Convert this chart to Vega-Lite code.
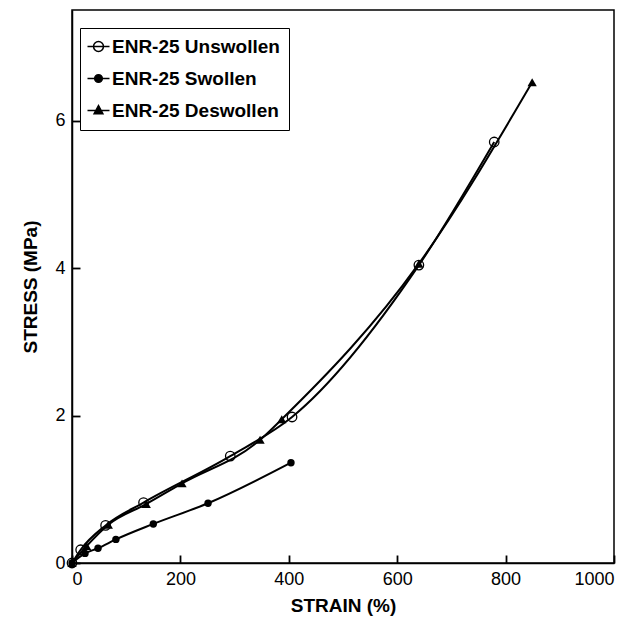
{
  "$schema": "https://vega.github.io/schema/vega-lite/v6.json",
  "width": 542,
  "height": 553,
  "autosize": {"type": "none"},
  "padding": {"left": 72, "top": 10, "right": 24, "bottom": 56},
  "background": "white",
  "config": {
    "font": "Liberation Sans",
    "view": {"stroke": "black", "strokeWidth": 1.5, "fill": null},
    "axis": {
      "grid": false,
      "ticks": true,
      "zindex": 1,
      "domainColor": "black",
      "domainWidth": 1.5,
      "tickColor": "black",
      "tickOpacity": 1,
      "tickWidth": 1.8,
      "tickSize": -8,
      "labelPadding": 15,
      "labelColor": "black",
      "labelFontSize": 18,
      "labelFont": "Liberation Sans",
      "titleColor": "black",
      "titleFontSize": 19,
      "titleFontWeight": "bold",
      "titleFont": "Liberation Sans"
    },
    "legend": {
      "labelFont": "Liberation Sans",
      "labelFontSize": 19,
      "labelFontWeight": "bold",
      "labelColor": "black",
      "labelLimit": 400
    }
  },
  "data": {
    "values": [
      {"series": "ENR-25 Unswollen", "strain": 0, "stress": 0},
      {"series": "ENR-25 Unswollen", "strain": 16, "stress": 0.18},
      {"series": "ENR-25 Unswollen", "strain": 62, "stress": 0.51},
      {"series": "ENR-25 Unswollen", "strain": 132, "stress": 0.82},
      {"series": "ENR-25 Unswollen", "strain": 292, "stress": 1.45},
      {"series": "ENR-25 Unswollen", "strain": 406, "stress": 1.98},
      {"series": "ENR-25 Unswollen", "strain": 640, "stress": 4.04},
      {"series": "ENR-25 Unswollen", "strain": 779, "stress": 5.71},
      {"series": "ENR-25 Swollen", "strain": 0, "stress": 0},
      {"series": "ENR-25 Swollen", "strain": 24, "stress": 0.13},
      {"series": "ENR-25 Swollen", "strain": 48, "stress": 0.2},
      {"series": "ENR-25 Swollen", "strain": 81, "stress": 0.32},
      {"series": "ENR-25 Swollen", "strain": 150, "stress": 0.53},
      {"series": "ENR-25 Swollen", "strain": 251, "stress": 0.81},
      {"series": "ENR-25 Swollen", "strain": 404, "stress": 1.36},
      {"series": "ENR-25 Deswollen", "strain": 0, "stress": 0},
      {"series": "ENR-25 Deswollen", "strain": 27, "stress": 0.23},
      {"series": "ENR-25 Deswollen", "strain": 67, "stress": 0.52},
      {"series": "ENR-25 Deswollen", "strain": 137, "stress": 0.8},
      {"series": "ENR-25 Deswollen", "strain": 203, "stress": 1.08},
      {"series": "ENR-25 Deswollen", "strain": 347, "stress": 1.67},
      {"series": "ENR-25 Deswollen", "strain": 387, "stress": 1.95},
      {"series": "ENR-25 Deswollen", "strain": 640, "stress": 4.06},
      {"series": "ENR-25 Deswollen", "strain": 849, "stress": 6.52}
    ]
  },
  "encoding": {
    "x": {
      "field": "strain", "type": "quantitative",
      "scale": {"domain": [0, 1000], "nice": false},
      "axis": {
        "values": [0, 200, 400, 600, 800, 1000], "format": "d", "title": "STRAIN (%)", "titlePadding": 8
      }
    },
    "y": {
      "field": "stress", "type": "quantitative",
      "scale": {"domain": [0, 7.5], "nice": false},
      "axis": {
        "values": [0, 2, 4, 6], "title": "STRESS (MPa)", "titlePadding": 14
      }
    }
  },
  "layer": [
    {
      "mark": {"type": "line", "interpolate": "monotone", "color": "black", "strokeWidth": 2},
      "encoding": {"detail": {"field": "series"}}
    },
    {
      "transform": [{"filter": "datum.series === 'ENR-25 Unswollen'"}],
      "mark": {"type": "point", "shape": "circle", "filled": false, "stroke": "black", "strokeWidth": 1.3, "size": 90, "opacity": 1}
    },
    {
      "transform": [{"filter": "datum.series === 'ENR-25 Swollen'"}],
      "mark": {"type": "point", "shape": "circle", "filled": true, "fill": "black", "size": 55, "opacity": 1}
    },
    {
      "transform": [{"filter": "datum.series === 'ENR-25 Deswollen'"}],
      "mark": {"type": "point", "shape": "triangle-up", "filled": true, "fill": "black", "size": 85, "opacity": 1}
    },
    {
      "mark": {"type": "point", "filled": true, "opacity": 0, "size": 1, "strokeWidth": 1.5},
      "encoding": {
        "shape": {
          "field": "series", "type": "nominal",
          "scale": {
            "domain": ["ENR-25 Unswollen", "ENR-25 Swollen", "ENR-25 Deswollen"],
            "range": [
              "M-2,0H2M0.9,0A0.9,0.9,0,1,1,-0.9,0A0.9,0.9,0,1,1,0.9,0Z",
              "M-2,0H2M0.7,0A0.7,0.7,0,1,1,-0.7,0A0.7,0.7,0,1,1,0.7,0Z",
              "M-2,0H2M0,-0.9L0.8,0.6L-0.8,0.6Z"
            ]
          },
          "legend": {
            "title": null,
            "orient": "none",
            "legendX": 8,
            "legendY": 18,
            "strokeColor": "black",
            "padding": 9,
            "rowPadding": 12,
            "symbolSize": 121,
            "symbolStrokeWidth": 1.5,
            "symbolOpacity": 1,
            "labelOffset": 4,
            "encode": {"symbols": {"update": {"opacity": {"value": 1}, "strokeWidth": {"value": 1.5}}}}
          }
        },
        "fill": {
          "field": "series", "type": "nominal",
          "scale": {
            "domain": ["ENR-25 Unswollen", "ENR-25 Swollen", "ENR-25 Deswollen"],
            "range": ["white", "black", "black"]
          },
          "legend": {"title": null, "orient": "none", "legendX": 8, "legendY": 18}
        },
        "stroke": {
          "field": "series", "type": "nominal",
          "scale": {
            "domain": ["ENR-25 Unswollen", "ENR-25 Swollen", "ENR-25 Deswollen"],
            "range": ["black", "black", "black"]
          },
          "legend": {"title": null, "orient": "none", "legendX": 8, "legendY": 18}
        }
      }
    }
  ]
}
